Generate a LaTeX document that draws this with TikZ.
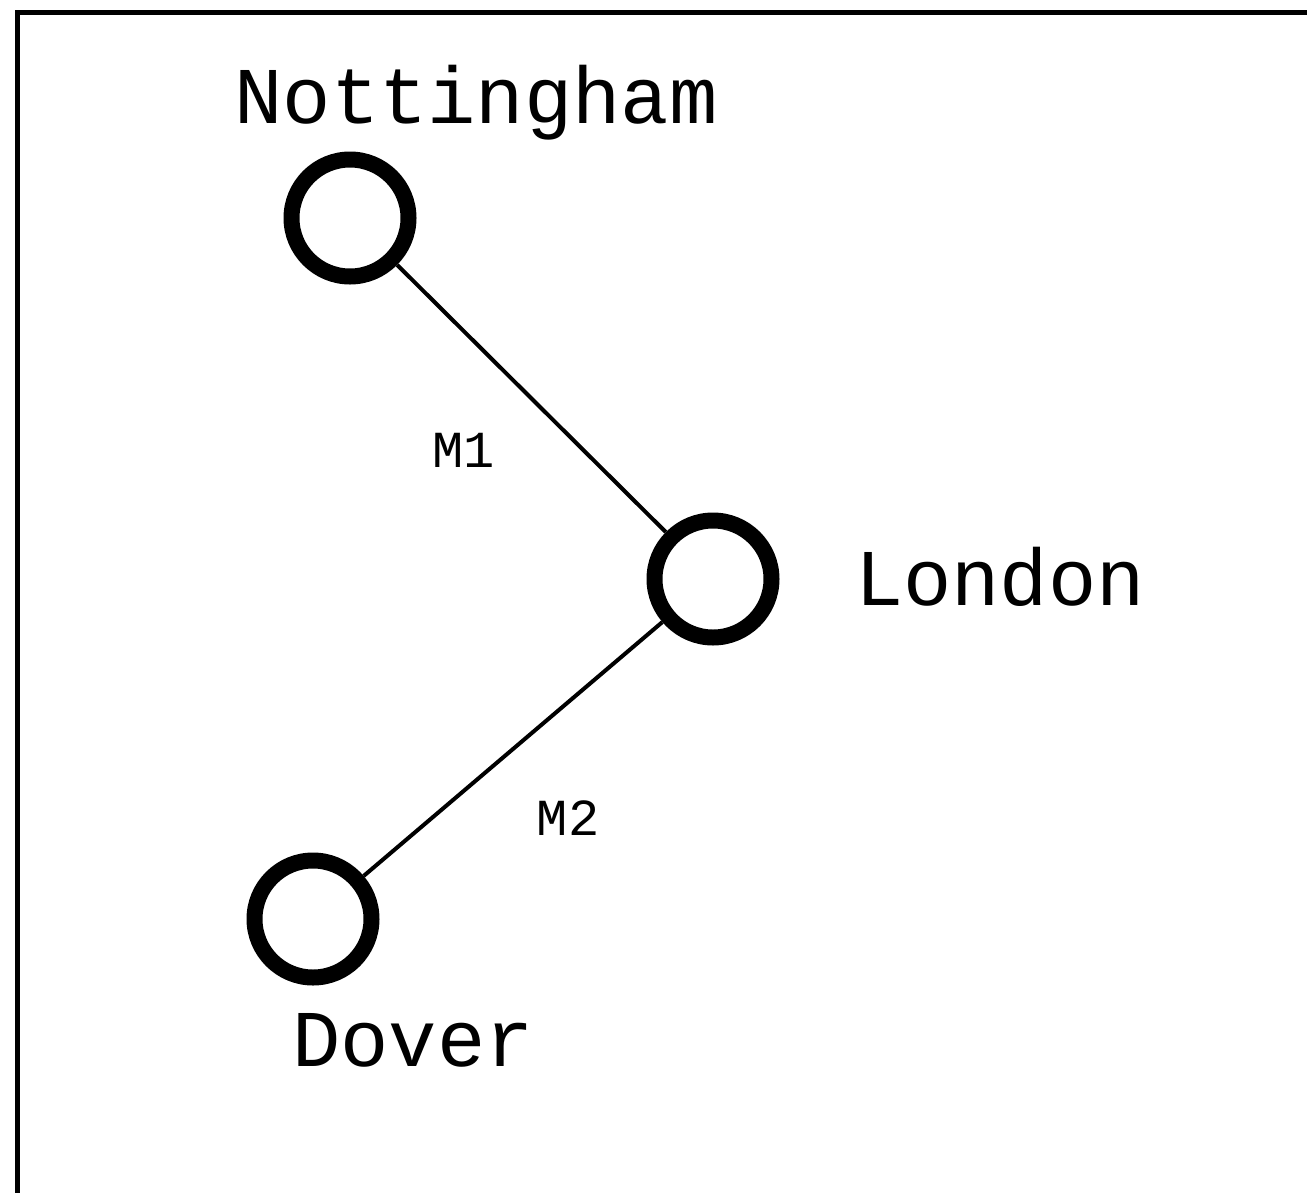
\documentclass[tikz,border=0pt]{standalone}
\usepackage{fontspec}
\setmonofont{Liberation Mono}
\usepackage{tikz}
\usetikzlibrary{positioning}

\begin{document}
\begin{tikzpicture}[x=1pt, y=-1pt,
    city/.style={circle, draw, line width=16pt, inner sep=0pt, minimum size=117pt},
    road/.style={line width=4pt},
    cityname/.style={anchor=base, inner sep=0pt, font=\ttfamily\fontsize{80.5}{90}\selectfont},
    roadname/.style={anchor=base, inner sep=0pt, font=\ttfamily\fontsize{52}{60}\selectfont}]
        % Fix the page size
        \useasboundingbox (0,0) rectangle (1307,1192);
        \clip (0,0) rectangle (1307,1192);

        % Draw the frame
        \draw[line width=5pt] (17.5,1250) -- (17.5,12.5) -- (1350,12.5);

        % Draw the towns
        \node[city] (nott) at (350,218) {};
        \node[city] (lon) at (713,579) {};
        \node[city] (dov) at (313,919) {};

        % Name the towns
        \node[cityname] (nottname) at (476,123) {Nottingham};
        \node[cityname] (lonname) at (1000,605) {London};
        \node[cityname] (dovname) at (413,1066) {Dover};

        % Draw the roads between the towns
        \draw[road] (nott) -- (lon);
        \draw[road] (dov) -- (lon);

        \node[roadname] (m1) at (464,467) {M1};
        \node[roadname] (m2) at (568,835) {M2};
      \end{tikzpicture}
\end{document}
